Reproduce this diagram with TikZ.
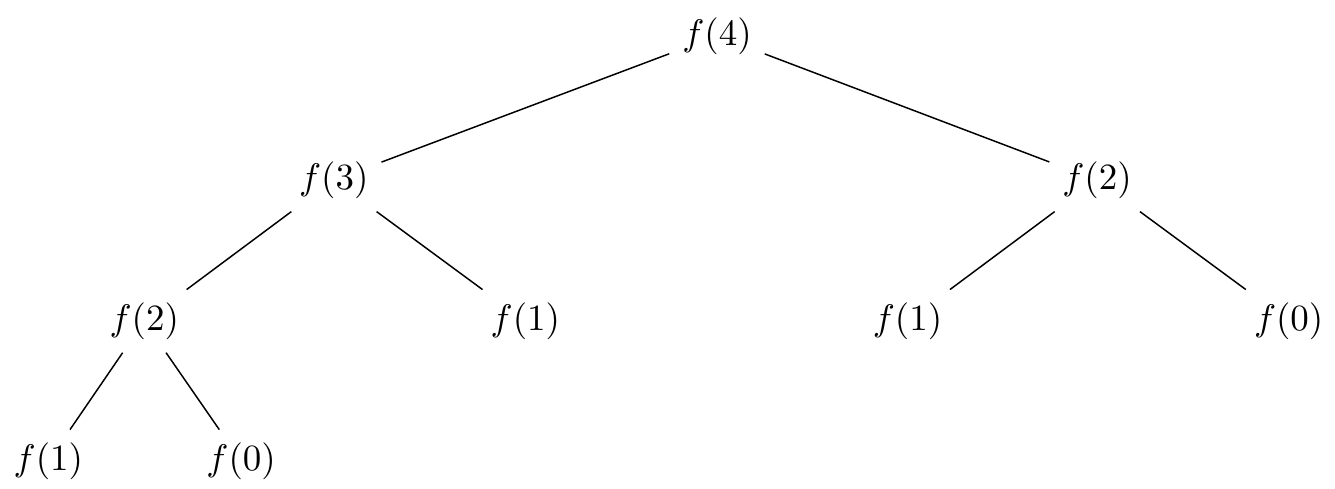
\documentclass[tikz,border=0pt]{standalone}
\usepackage{tikz}
\tikzset{call/.style={inner sep=3.33pt},
  link/.style={line width=0.4pt}}

\begin{document}
\begin{tikzpicture}
  \useasboundingbox (0,0) rectangle (12.68,-4.64);
  % recursion levels
  \node[call] (f4) at (6.81,-0.34) {$f(4)$};
  \node[call] (f3) at (3.17,-1.71) {$f(3)$};
  \node[call] (f2r) at (10.42,-1.71) {$f(2)$};
  \node[call] (f2l) at (1.37,-3.05) {$f(2)$};
  \node[call] (f1m) at (4.99,-3.05) {$f(1)$};
  \node[call] (f1r) at (8.62,-3.05) {$f(1)$};
  \node[call] (f0r) at (12.24,-3.05) {$f(0)$};
  \node[call] (f1b) at (0.46,-4.38) {$f(1)$};
  \node[call] (f0b) at (2.29,-4.38) {$f(0)$};
  % calls
  \foreach \a/\b in {f4/f3, f4/f2r, f3/f2l, f3/f1m, f2r/f1r, f2r/f0r, f2l/f1b, f2l/f0b}
    \draw[link] (\a) -- (\b);
\end{tikzpicture}
\end{document}
